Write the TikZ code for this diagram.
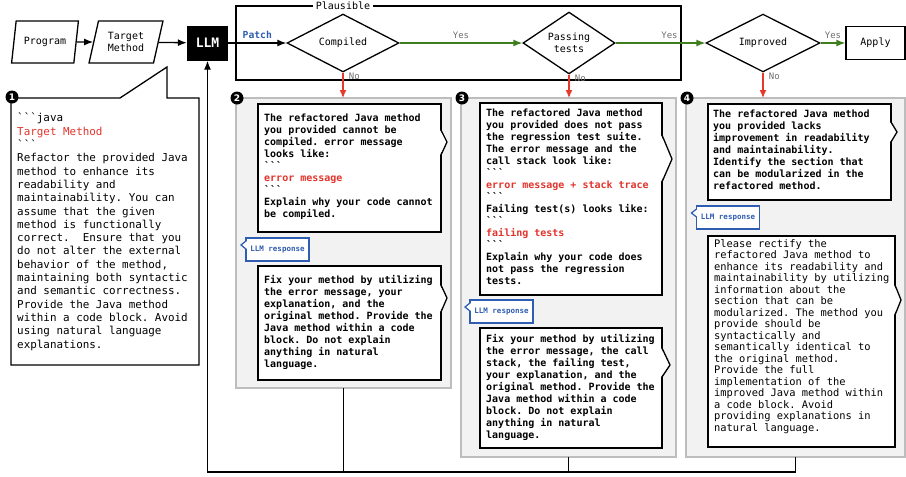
\documentclass[tikz,border=0pt]{standalone}
\usepackage{fontspec}
\setmonofont{DejaVu Sans Mono}
\setsansfont{DejaVu Sans}
\usepackage{xcolor}
\usetikzlibrary{arrows,arrows.meta,shapes.geometric}
\definecolor{panelgray}{HTML}{F2F2F2}
\definecolor{panelline}{HTML}{BDBDBD}
\definecolor{codered}{HTML}{E3342C}
\definecolor{nored}{HTML}{E8372B}
\definecolor{yesgreen}{HTML}{3E7E1F}
\definecolor{tagblue}{HTML}{2F5DB1}
\definecolor{labgray}{HTML}{707070}
\newcommand{\btick}{\textasciigrave\textasciigrave\textasciigrave}
\newcommand{\redtxt}[1]{\textcolor{codered}{#1}}
\newcommand{\bubbletip}[5]{%
  \fill[white] ([shift={(-1pt,-#2pt)}]#1.north east) -- ([shift={(#5pt,-#3pt)}]#1.north east) -- ([shift={(-1pt,-#4pt)}]#1.north east) -- cycle;
  \draw[line width=1.3pt] ([shift={(0pt,-#2pt)}]#1.north east) -- ([shift={(#5pt,-#3pt)}]#1.north east) -- ([shift={(0pt,-#4pt)}]#1.north east);}
\newcommand{\tagtip}[1]{%
  \fill[white] ([shift={(1pt,-3pt)}]#1.north west) -- ([shift={(-5pt,-7pt)}]#1.north west) -- ([shift={(1pt,-11pt)}]#1.north west) -- cycle;
  \draw[tagblue,line width=1.2pt] ([shift={(0pt,-3pt)}]#1.north west) -- ([shift={(-5pt,-7pt)}]#1.north west) -- ([shift={(0pt,-11pt)}]#1.north west);}

\begin{document}
\frenchspacing
\begin{tikzpicture}[x=1pt,y=-1pt,
                every node/.style={font=\ttfamily\fontsize{10}{12}\selectfont},
                iobox/.style={trapezium,trapezium left angle=73,trapezium right angle=107,trapezium stretches,draw,line width=1.3pt,align=center,inner sep=1pt,minimum height=42},
                decide/.style={diamond,draw,line width=1.3pt,align=center,inner sep=0pt,minimum height=51},
                panel/.style={draw=panelline,fill=panelgray,line width=1.5pt,outer sep=0pt},
                msgbox/.style={draw,fill=white,line width=1.3pt,outer sep=0pt},
                msgtext/.style={anchor=north west,align=left,inner sep=0pt,font=\ttfamily\bfseries\fontsize{10}{12}\selectfont},
                tagbox/.style={draw=tagblue,fill=white,line width=1.2pt,text=tagblue,outer sep=0pt,inner sep=0pt,minimum width=63,minimum height=23,font=\ttfamily\bfseries\fontsize{7.5}{9}\selectfont},
                numdot/.style={circle,fill=black,text=white,inner sep=0pt,minimum size=13,font=\sffamily\bfseries\fontsize{9}{9}\selectfont},
                flow/.style={-{Latex[length=9pt,width=7pt]},line width=1.3pt},
                yesflow/.style={flow,yesgreen},
                noflow/.style={-{Latex[length=8pt,width=7pt]},line width=1.3pt,nored},
                ynlabel/.style={text=labgray,font=\ttfamily\fontsize{9}{9}\selectfont}]
                \useasboundingbox (0,0) rectangle (906,477);
                \node[draw,line width=1.3pt,minimum width=445,minimum height=74] (plaus) at (458.5,43) {};
                \node[fill=white,inner sep=3pt] (plauslab) at (343,6) {Plausible};
                \node[iobox,minimum width=67] (prog) at (45,42) {Program};
                \node[iobox,minimum width=74] (tm) at (126,42) {Target\\Method};
                \node[fill=black,text=white,minimum width=41,minimum height=35,font=\ttfamily\bfseries\fontsize{13}{13}\selectfont] (llm) at (207.5,43) {LLM};
                \node[decide,minimum width=112] (cmp) at (343,43) {Compiled};
                \node[decide,minimum width=92] (pass) at (569,43) {Passing\\tests};
                \node[decide,minimum width=114] (imp) at (763,43) {Improved};
                \node[draw,line width=1.3pt,minimum width=59,minimum height=33] (apply) at (875.5,43) {Apply};
                \draw[flow] (prog) -- (tm);
                \draw[flow] (tm) -- (llm);
                \draw[flow] (llm) -- node[above,text=tagblue,font=\ttfamily\bfseries\fontsize{9.7}{10}\selectfont] (patch) {Patch} (cmp);
                \draw[yesflow] (cmp) -- node[ynlabel,above] (yes1) {Yes} (pass);
                \draw[yesflow] (pass) -- node[ynlabel,above,pos=0.6] (yes2) {Yes} (imp);
                \draw[yesflow] (imp) -- node[ynlabel,above] (yes3) {Yes} (apply);
                \node[panel,minimum width=215,minimum height=290] (p2) at (343.5,243) {};
                \node[panel,minimum width=215,minimum height=359] (p3) at (568.5,277.5) {};
                \node[panel,minimum width=219,minimum height=359] (p4) at (795.5,277.5) {};
                \draw[noflow] (cmp.south) -- node[ynlabel,right,pos=0.15,xshift=2pt] (no1) {No} (cmp.south |- p2.north);
                \draw[noflow] (pass.south) -- node[ynlabel,right,pos=0.15,xshift=2pt] (no2) {No} (pass.south |- p3.north);
                \draw[noflow] (imp.south) -- node[ynlabel,right,pos=0.15,xshift=2pt] (no3) {No} (imp.south |- p4.north);
                \draw[line width=1.3pt,fill=white] (11,98) -- (120,98) -- (167,67) -- (167,98) -- (199,98) -- (199,365) -- (11,365) -- cycle;
                \node[msgtext,font=\ttfamily\fontsize{10.9}{13.3}\selectfont] (t1) at (17,113) {\btick java\\
                \redtxt{Target Method}\\
                \btick\\
                Refactor the provided Java\\
                method to enhance its\\
                readability and\\
                maintainability. You can\\
                assume that the given\\
                method is functionally\\
                correct.\ \ Ensure that you\\
                do not alter the external\\
                behavior of the method,\\
                maintaining both syntactic\\
                and semantic correctness.\\
                Provide the Java method\\
                within a code block. Avoid\\
                using natural language\\
                explanations.};
                \node[msgbox,minimum width=183,minimum height=128] (b2a) at (349.5,168) {};
                \bubbletip{b2a}{26}{38}{51}{6}
                \node[msgtext] (t2a) at (264,114) {The refactored Java method\\
                you provided cannot be\\
                compiled. error message\\
                looks like:\\
                \btick\\
                \redtxt{error message}\\
                \btick\\
                Explain why your code cannot\\
                be compiled.};
                \node[tagbox] (r2) at (277.5,249.5) {LLM response};
                \tagtip{r2}
                \node[msgbox,minimum width=183,minimum height=114] (b2b) at (349.5,323) {};
                \bubbletip{b2b}{19}{32}{46}{6}
                \node[msgtext] (t2b) at (264,275) {Fix your method by utilizing\\
                the error message, your\\
                explanation, and the\\
                original method. Provide the\\
                Java method within a code\\
                block. Do not explain\\
                anything in natural\\
                language.};
                \node[msgbox,minimum width=182,minimum height=192] (b3a) at (571,199) {};
                \bubbletip{b3a}{32}{56}{79}{10}
                \node[msgtext] (t3a) at (486,109) {The refactored Java method\\
                you provided does not pass\\
                the regression test suite.\\
                The error message and the\\
                call stack look like:\\
                \btick\\
                \redtxt{error message + stack trace}\\
                \btick\\
                Failing test(s) looks like:\\
                \btick\\
                \redtxt{failing tests}\\
                \btick\\
                Explain why your code does\\
                not pass the regression\\
                tests.};
                \node[tagbox] (r3) at (501.5,311.5) {LLM response};
                \tagtip{r3}
                \node[msgbox,minimum width=182,minimum height=120] (b3b) at (571,388) {};
                \bubbletip{b3b}{20}{37}{49}{8}
                \node[msgtext] (t3b) at (486,334) {Fix your method by utilizing\\
                the error message, the call\\
                stack, the failing test,\\
                your explanation, and the\\
                original method. Provide the\\
                Java method within a code\\
                block. Do not explain\\
                anything in natural\\
                language.};
                \node[msgbox,minimum width=183,minimum height=96] (b4a) at (799.5,152) {};
                \bubbletip{b4a}{18}{28}{38}{6}
                \node[msgtext] (t4a) at (713,110) {The refactored Java method\\
                you provided lacks\\
                improvement in readability\\
                and maintainability.\\
                Identify the section that\\
                can be modularized in the\\
                refactored method.};
                \node[tagbox] (r4) at (728,217.5) {LLM response};
                \tagtip{r4}
                \node[msgbox,minimum width=187,minimum height=211] (b4b) at (801.5,341.5) {};
                \bubbletip{b4b}{49}{64}{79}{6}
                \node[msgtext,font=\ttfamily\fontsize{10.4}{11.5}\selectfont] (t4b) at (714,239) {Please rectify the\\
                refactored Java method to\\
                enhance its readability and\\
                maintainability by utilizing\\
                information about the\\
                section that can be\\
                modularized. The method you\\
                provide should be\\
                syntactically and\\
                semantically identical to\\
                the original method.\\
                Provide the full\\
                implementation of the\\
                improved Java method within\\
                a code block. Avoid\\
                providing explanations in\\
                natural language.};
                \coordinate (back) at (207.5,472);
                \draw[line width=1.3pt] (p2.south) -- (p2.south |- back);
                \draw[line width=1.3pt] (p3.south) -- (p3.south |- back);
                \draw[flow] (p4.south) |- (back) -- (llm.south);
                \node[numdot] (n1) at (12,97) {1};
                \node[numdot] (n2) at (237,98) {2};
                \node[numdot] (n3) at (462,98) {3};
                \node[numdot] (n4) at (687,98) {4};
\end{tikzpicture}
\end{document}
